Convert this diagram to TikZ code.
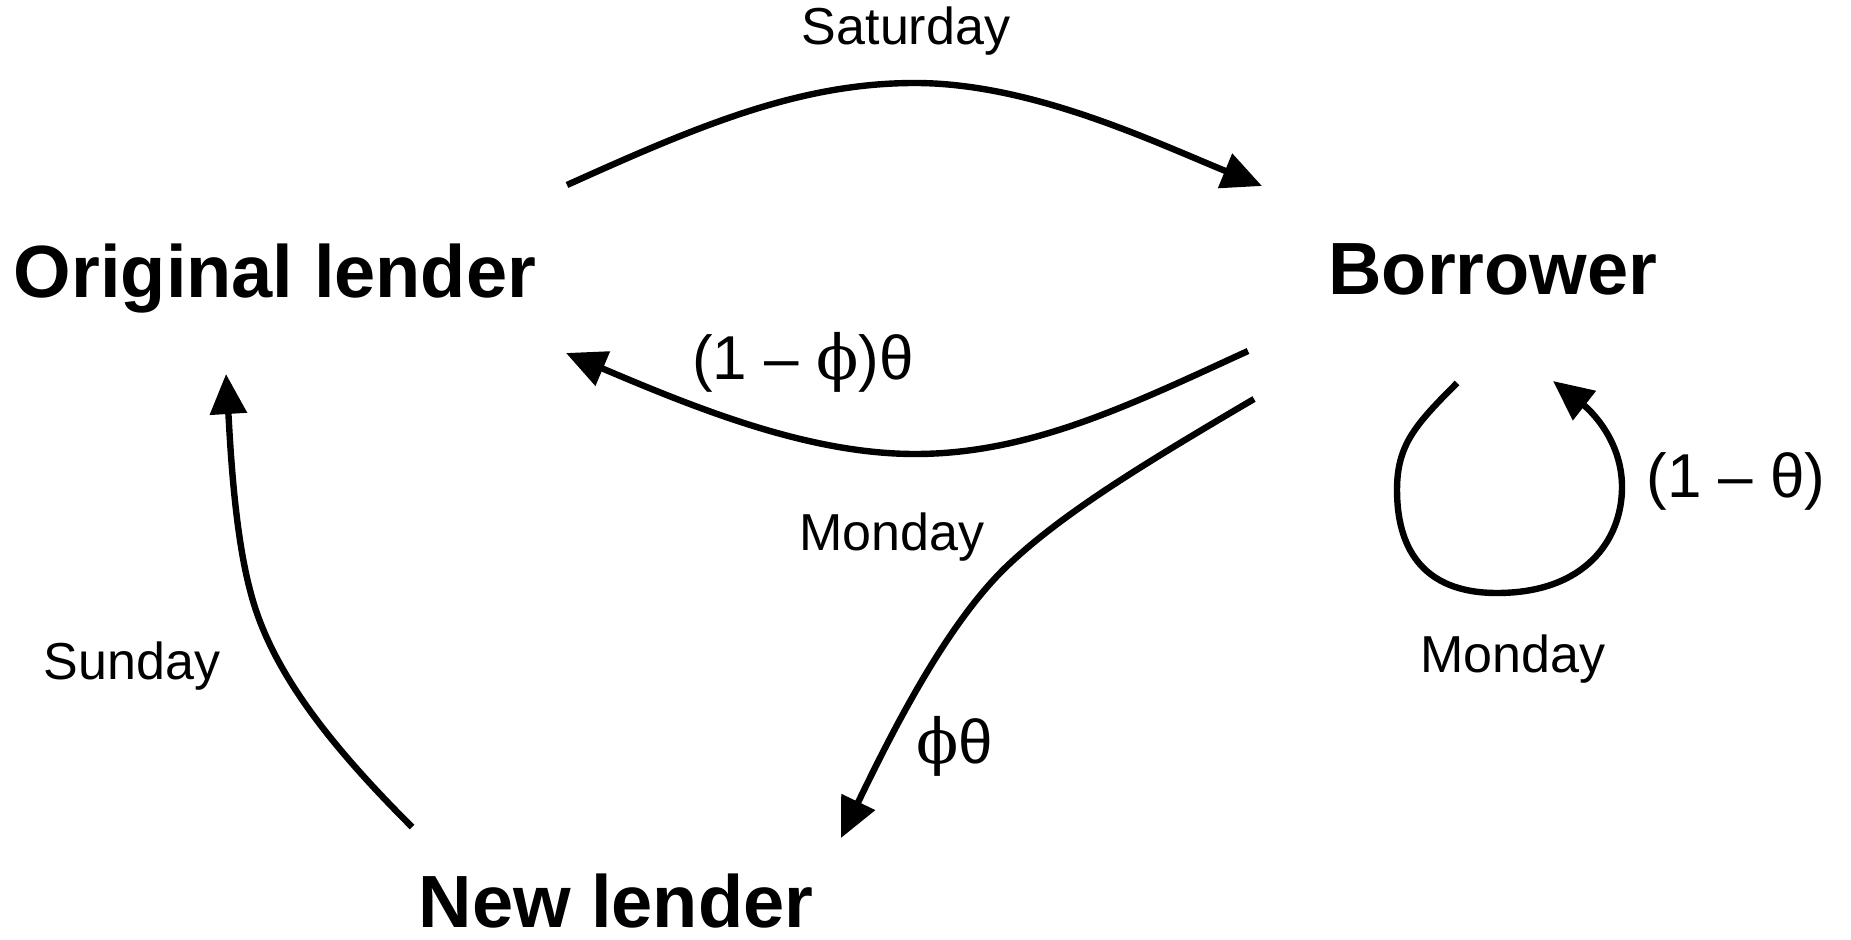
\documentclass[tikz,border=0pt]{standalone}
\usepackage{fontspec}
\setmainfont{Liberation Sans}
\newfontfamily\phifont{DejaVu Serif}
\usetikzlibrary{arrows.meta}
\newcommand{\myphi}{{\phifont ϕ}}
\begin{document}
\begin{tikzpicture}[x=0.5pt,y=-0.5pt,
  conn/.style={line width=3.2pt,-{Triangle[length=20pt,width=18pt]}},
  party/.style={font=\fontsize{37}{40}\selectfont\bfseries, anchor=base, inner sep=0pt},
  day/.style={font=\fontsize{26}{28}\selectfont, anchor=base, inner sep=0pt},
  prob/.style={font=\fontsize{31}{34}\selectfont, anchor=base, inner sep=0pt}]
\useasboundingbox (0,0) rectangle (1851,940);

% parties
\node[party] (OL) at (275,298) {Original lender};
\node[party] (B)  at (1493,295) {Borrower};
\node[party] (NL) at (616,927) {New lender};

% labels
\node[day] (sat) at (906,45) {Saturday};
\node[day] (mon1) at (892,550) {Monday};
\node[day] (mon2) at (1513,672) {Monday};
\node[day] (sun) at (132,679) {Sunday};
\node[prob] (p1) at (803,380) {(1 – \myphi)θ};
\node[prob] (p2) at (955,763) {\myphi θ};
\node[prob] (p3) at (1736,498) {(1 – θ)};

% connector end points
\coordinate (a1s) at (567,185);
\coordinate (a1e) at (1262,186);
\coordinate (a2s) at (1248,351);
\coordinate (a2e) at (566,353);
\coordinate (a3s) at (1254,399);
\coordinate (a3e) at (841,838);
\coordinate (a4s) at (412,827);
\coordinate (a4e) at (226,374);
\coordinate (a5s) at (1457,383);
\coordinate (a5e) at (1553,381);

% Saturday: original lender -> borrower
\draw[conn] (a1s) .. controls (700,125) and (800,83) .. (915,83)
  .. controls (1030,83) and (1150,140) .. (a1e);
% Monday: borrower -> original lender
\draw[conn] (a2s) .. controls (1130,405) and (1030,454) .. (915,454)
  .. controls (810,454) and (700,410) .. (a2e);
% Monday: borrower -> new lender
\draw[conn] (a3s) .. controls (1140,466) and (1060,515) .. (1005,568)
  .. controls (950,622) and (900,715) .. (a3e);
% Sunday: new lender -> original lender
\draw[conn] (a4s) .. controls (330,745) and (270,670) .. (250,590)
  .. controls (234,530) and (230,440) .. (a4e);
% Monday: borrower loop
\draw[conn] (a5s) .. controls (1415,425) and (1397,445) .. (1397,490)
  .. controls (1397,545) and (1420,593) .. (1497,593)
  .. controls (1585,593) and (1622,540) .. (1622,487)
  .. controls (1622,440) and (1590,410) .. (a5e);
\end{tikzpicture}
\end{document}
